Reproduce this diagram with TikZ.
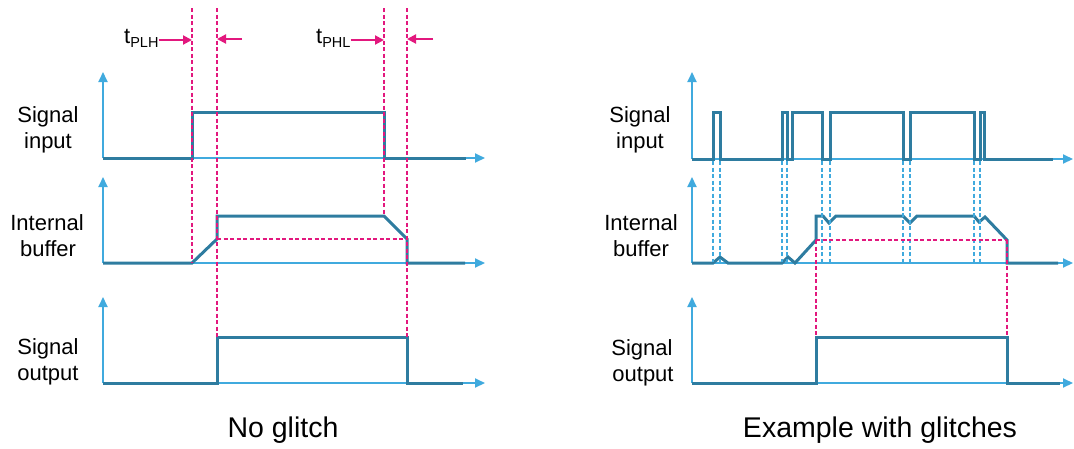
\documentclass[tikz,border=0pt]{standalone}
\usepackage{fontspec}
\setmainfont{Liberation Sans}
\usetikzlibrary{arrows.meta}
\definecolor{axisblue}{RGB}{64,170,222}
\definecolor{sigteal}{RGB}{46,124,160}
\definecolor{pinkc}{RGB}{226,24,126}
\begin{document}
\begin{tikzpicture}[x=1pt,y=-1pt,
  axis/.style={draw=axisblue,line width=2pt,-{Triangle[length=10pt,width=9pt]}},
  sig/.style={draw=sigteal,line width=3pt,line join=miter},
  pinkdash/.style={draw=pinkc,line width=2pt,dash pattern=on 4pt off 2.5pt},
  bluedash/.style={draw=axisblue,line width=1.9pt,dash pattern=on 4pt off 2.5pt},
  parrow/.style={draw=pinkc,line width=2pt,-{Triangle[length=9pt,width=9pt]}},
  lbl/.style={anchor=base,inner sep=0pt,font=\fontsize{22}{26}\selectfont},
  ttl/.style={anchor=base,inner sep=0pt,font=\fontsize{28.5}{32}\selectfont},
  tl/.style={anchor=base west,inner sep=0pt,font=\fontsize{22}{26}\selectfont}]
\useasboundingbox (0,0) rectangle (1074,448);

% ---------------- Left panel: axes ----------------
\coordinate (LO1) at (103,158);
\coordinate (LO2) at (103,263);
\coordinate (LO3) at (103,383);
\draw[axis] (LO1) -- (103,72);
\draw[axis] (LO1) -- (485,158);
\draw[axis] (LO2) -- (103,177);
\draw[axis] (LO2) -- (485,263);
\draw[axis] (LO3) -- (103,297);
\draw[axis] (LO3) -- (485,383);

% ---------------- Right panel: axes ----------------
\coordinate (RO1) at (692,159);
\coordinate (RO2) at (692,263);
\coordinate (RO3) at (692,383);
\draw[axis] (RO1) -- (692,72);
\draw[axis] (RO1) -- (1073,159);
\draw[axis] (RO2) -- (692,177);
\draw[axis] (RO2) -- (1073,263);
\draw[axis] (RO3) -- (692,297);
\draw[axis] (RO3) -- (1073,383);

% ---------------- Left signals ----------------
\draw[sig] (LO1) -- (192,158) -- (192,112) -- (384,112) -- (384,158) -- (466,158);
\draw[sig] (LO2) -- (192,263) -- (217,239) -- (217,216) -- (384,216) -- (407,239) -- (407,263) -- (465,263);
\draw[sig] (LO3) -- (217,383) -- (217,337) -- (407,337) -- (407,383) -- (463,383);

% ---------------- Right signals ----------------
\draw[sig] (RO1) -- (713,159) -- (713,112) -- (720,112) -- (720,159)
  -- (782,159) -- (782,112) -- (787,112) -- (787,159)
  -- (792,159) -- (792,112) -- (822,112) -- (822,159)
  -- (830,159) -- (830,112) -- (903,112) -- (903,159)
  -- (910,159) -- (910,112) -- (974,112) -- (974,159)
  -- (980,159) -- (980,112) -- (984,112) -- (984,159) -- (1053,159);
\draw[sig] (RO2) -- (713,263) -- (720,257) -- (728,263) -- (782,263) -- (788,257) -- (795,263)
  -- (816,240) -- (816,216) -- (823,216) -- (829,223) -- (836,216) -- (903,216)
  -- (910,223) -- (917,216) -- (974,216) -- (979,222) -- (985,217) -- (1007,240)
  -- (1007,263) -- (1058,263);
\draw[sig] (RO3) -- (816,383) -- (816,337) -- (1007,337) -- (1007,383) -- (1060,383);

% ---------------- Right blue dashed guides ----------------
\foreach \xx in {713,720,782,787,822,830,903,910,974,980}{
  \draw[bluedash] (\xx,161) -- (\xx,262);
}

% ---------------- Pink dashed guides ----------------
\draw[pinkdash] (192,8) -- (192,263);
\draw[pinkdash] (217,8) -- (217,337);
\draw[pinkdash] (384,8) -- (384,216);
\draw[pinkdash] (407,8) -- (407,337);
\draw[pinkdash] (217,239) -- (407,239);
\draw[pinkdash] (816,240) -- (816,337);
\draw[pinkdash] (1007,240) -- (1007,337);
\draw[pinkdash] (816,240) -- (1007,240);

% ---------------- Propagation delay labels ----------------
\node[tl] (tplh) at (124,43) {t\raisebox{-4pt}{\fontsize{14.5}{16}\selectfont PLH}};
\node[tl] (tphl) at (316,43) {t\raisebox{-4pt}{\fontsize{14.5}{16}\selectfont PHL}};
\coordinate (a1e) at (192,40);
\coordinate (a2s) at (242,39);
\coordinate (a2e) at (217,39);
\coordinate (a3e) at (384,40);
\coordinate (a4s) at (433,39);
\coordinate (a4e) at (407,39);
\draw[parrow] (tplh.east |- a1e) -- (a1e);
\draw[parrow] (a2s) -- (a2e);
\draw[parrow] (tphl.east |- a3e) -- (a3e);
\draw[parrow] (a4s) -- (a4e);

% ---------------- Row labels ----------------
\node[lbl] (lsig1) at (48,122) {Signal};
\node[lbl] (linp)  at (48,148) {input};
\node[lbl] (lint)  at (47,230) {Internal};
\node[lbl] (lbuf)  at (48,256) {buffer};
\node[lbl] (lsig2) at (48,354) {Signal};
\node[lbl] (lout)  at (48,380) {output};

\node[lbl] (rsig1) at (640,122) {Signal};
\node[lbl] (rinp)  at (640,148) {input};
\node[lbl] (rint)  at (641,230) {Internal};
\node[lbl] (rbuf)  at (641,256) {buffer};
\node[lbl] (rsig2) at (642,355) {Signal};
\node[lbl] (rout)  at (643,381) {output};

% ---------------- Titles ----------------
\node[ttl] (tleft)  at (283,437) {No glitch};
\node[ttl] (tright) at (880,437) {Example with glitches};
\end{tikzpicture}
\end{document}
